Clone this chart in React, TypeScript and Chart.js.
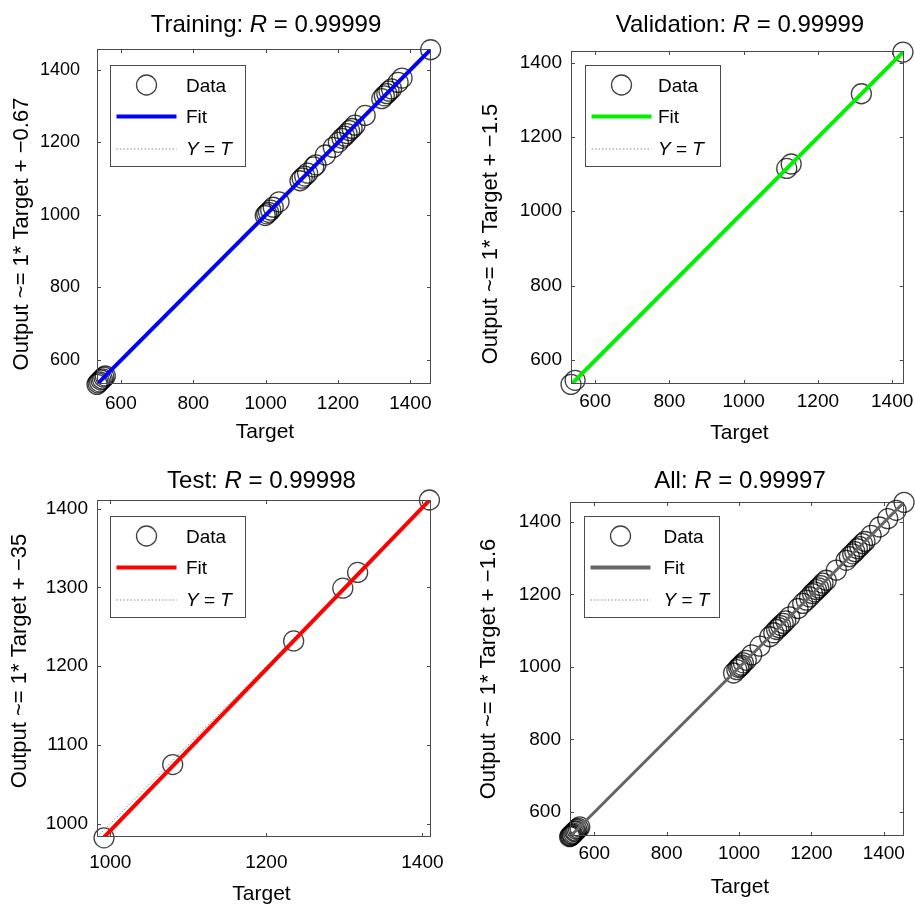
import React, { useEffect, useRef } from "react";
import { Chart, registerables } from "chart.js";

Chart.register(...registerables);

// ---------------- DATA ----------------
const trainTarget = [534, 537, 541, 545, 549, 553, 557, 999, 1003, 1008, 1014, 1021, 1037, 1095, 1101, 1108, 1116, 1133, 1139, 1165, 1187, 1201, 1211, 1218, 1225, 1232, 1239, 1247, 1275, 1321, 1328, 1335, 1341, 1348, 1366, 1377, 1456];
const trainOutput = [533, 537, 540, 545, 548, 553, 556, 998, 1003, 1007, 1013, 1021, 1036, 1094, 1101, 1107, 1115, 1132, 1138, 1165, 1186, 1200, 1211, 1217, 1224, 1232, 1238, 1247, 1274, 1320, 1328, 1334, 1341, 1347, 1365, 1377, 1455];

const valTarget = [535, 546, 1116, 1128, 1317, 1429];
const valOutput = [534, 545, 1115, 1127, 1316, 1428];

const testTarget = [992, 1080, 1235, 1298, 1317, 1409];
const testOutput = [982, 1075, 1232, 1299, 1319, 1411];

const allTarget = [532, 534, 536, 538, 540, 543, 546, 549, 552, 556, 560, 985, 994, 999, 1003, 1007, 1012, 1020, 1035, 1058, 1085, 1096, 1104, 1110, 1115, 1122, 1129, 1140, 1163, 1176, 1186, 1195, 1203, 1209, 1214, 1220, 1226, 1232, 1241, 1269, 1296, 1305, 1314, 1320, 1327, 1334, 1341, 1348, 1365, 1388, 1411, 1434, 1456];
const allOutput = [531, 533, 534, 537, 538, 541, 545, 547, 551, 554, 558, 983, 992, 998, 1001, 1005, 1011, 1018, 1033, 1057, 1083, 1094, 1103, 1108, 1114, 1120, 1127, 1138, 1161, 1175, 1184, 1193, 1202, 1207, 1213, 1218, 1224, 1231, 1239, 1267, 1294, 1304, 1312, 1318, 1326, 1332, 1340, 1346, 1363, 1386, 1409, 1432, 1454];

const wideTicks = [600, 800, 1000, 1200, 1400];
const testXTicks = [1000, 1200, 1400];
const testYTicks = [1000, 1100, 1200, 1300, 1400];

// fit parameters
const trainFit = { slope: 1.0, intercept: -0.67 };
const valFit = { slope: 1.0, intercept: -1.5 };
const testFit = { slope: 1.026, intercept: -35 };
const allFit = { slope: 1.0, intercept: -1.6 };

const titles = ["Training", "Validation", "Test", "All"];
const rValues = ["0.99999", "0.99999", "0.99998", "0.99997"];
const yTitles = [
  "Output ~= 1* Target + \u22120.67",
  "Output ~= 1* Target + \u22121.5",
  "Output ~= 1* Target + \u221235",
  "Output ~= 1* Target + \u22121.6",
];

// ---------------- STYLE / LAYOUT ----------------
const FONT = "'Liberation Sans', Arial, Helvetica, sans-serif";
const AXIS_COLOR = "#4a4a4a";
const CIRCLE_COLOR = "rgba(0,0,0,0.75)";
const TICK_LEN = 4;

type Panel = {
  left: number; top: number; w: number; h: number;
  plot: { l: number; r: number; t: number; b: number };
  min: number; max: number;
  xTicks: number[]; yTicks: number[];
  targets: number[]; outputs: number[];
  fit: { slope: number; intercept: number };
  color: string; fitWidth: number;
  title: string; r: string; yTitle: string;
  titleX: number; titleY: number;
  xTitleX: number; xTitleY: number;
  yTitleX: number; yTitleY: number;
  xTickPad: number; yTickPad: number; yTickSize: number;
  leg: { l: number; t: number; textDx: number };
};

const panels: Panel[] = [
  {
    left: 0, top: 0, w: 457, h: 450,
    plot: { l: 97, r: 431, t: 49, b: 384 },
    min: 534, max: 1457, xTicks: wideTicks, yTicks: wideTicks,
    targets: trainTarget, outputs: trainOutput, fit: trainFit,
    color: "#0000ff", fitWidth: 4,
    title: titles[0], r: rValues[0], yTitle: yTitles[0],
    titleX: 266, titleY: 31.5, xTitleX: 265, xTitleY: 438, yTitleX: 22, yTitleY: 234,
    xTickPad: 8, yTickPad: 17, yTickSize: 18,
    leg: { l: 110.5, t: 65.5, textDx: 75.5 },
  },
  {
    left: 457, top: 0, w: 458, h: 450,
    plot: { l: 114, r: 447, t: 51, b: 384 },
    min: 535, max: 1431, xTicks: wideTicks, yTicks: wideTicks,
    targets: valTarget, outputs: valOutput, fit: valFit,
    color: "#00f000", fitWidth: 4,
    title: titles[1], r: rValues[1], yTitle: yTitles[1],
    titleX: 283, titleY: 31.5, xTitleX: 282.5, xTitleY: 439, yTitleX: 34, yTitleY: 234,
    xTickPad: 6, yTickPad: 9, yTickSize: 19,
    leg: { l: 128.5, t: 65.5, textDx: 72.5 },
  },
  {
    left: 0, top: 450, w: 457, h: 454,
    plot: { l: 97, r: 431, t: 50, b: 387 },
    min: 983, max: 1411, xTicks: testXTicks, yTicks: testYTicks,
    targets: testTarget, outputs: testOutput, fit: testFit,
    color: "#ff0000", fitWidth: 4,
    title: titles[2], r: rValues[2], yTitle: yTitles[2],
    titleX: 261.5, titleY: 37.5, xTitleX: 261.5, xTitleY: 450, yTitleX: 20, yTitleY: 211,
    xTickPad: 14, yTickPad: 9, yTickSize: 19,
    leg: { l: 110.5, t: 66.5, textDx: 75.5 },
  },
  {
    left: 457, top: 450, w: 458, h: 454,
    plot: { l: 113, r: 447, t: 52, b: 386 },
    min: 533, max: 1455, xTicks: wideTicks, yTicks: wideTicks,
    targets: allTarget, outputs: allOutput, fit: allFit,
    color: "#666666", fitWidth: 3,
    title: titles[3], r: rValues[3], yTitle: yTitles[3],
    titleX: 283, titleY: 37.5, xTitleX: 283, xTitleY: 443, yTitleX: 32, yTitleY: 219,
    xTickPad: 6, yTickPad: 9, yTickSize: 19,
    leg: { l: 127.5, t: 66.5, textDx: 79 },
  },
];

// ---------------- DRAW HELPERS ----------------
type Part = { text: string; italic?: boolean };

function drawRich(ctx: CanvasRenderingContext2D, parts: Part[], x: number, y: number, size: number, align: "center" | "left") {
  let total = 0;
  const widths = parts.map((p) => {
    ctx.font = `${p.italic ? "italic " : ""}${size}px ${FONT}`;
    const w = ctx.measureText(p.text).width;
    total += w;
    return w;
  });
  let cx = align === "center" ? x - total / 2 : x;
  ctx.textAlign = "left";
  parts.forEach((p, i) => {
    ctx.font = `${p.italic ? "italic " : ""}${size}px ${FONT}`;
    ctx.fillText(p.text, cx, y);
    cx += widths[i];
  });
}

function makeDecor(p: Panel) {
  return {
    id: "decor",
    afterDraw(chart: any) {
      const ctx: CanvasRenderingContext2D = chart.ctx;
      const { left, right, top, bottom } = chart.chartArea;
      const xs = chart.scales.x;
      const ys = chart.scales.y;
      ctx.save();
      // box
      ctx.strokeStyle = AXIS_COLOR;
      ctx.lineWidth = 1;
      ctx.strokeRect(Math.round(left) + 0.5, Math.round(top) + 0.5, Math.round(right - left) - 1, Math.round(bottom - top) - 1);
      // inward ticks on all sides
      ctx.beginPath();
      xs.ticks.forEach((t: any) => {
        const px = Math.round(xs.getPixelForValue(t.value)) + 0.5;
        ctx.moveTo(px, bottom); ctx.lineTo(px, bottom - TICK_LEN);
        ctx.moveTo(px, top); ctx.lineTo(px, top + TICK_LEN);
      });
      ys.ticks.forEach((t: any) => {
        const py = Math.round(ys.getPixelForValue(t.value)) + 0.5;
        ctx.moveTo(left, py); ctx.lineTo(left + TICK_LEN, py);
        ctx.moveTo(right, py); ctx.lineTo(right - TICK_LEN, py);
      });
      ctx.stroke();

      ctx.fillStyle = "#000";
      ctx.textBaseline = "alphabetic";
      // title
      drawRich(ctx, [{ text: p.title + ": " }, { text: "R", italic: true }, { text: " = " + p.r }], p.titleX, p.titleY, 24, "center");
      // x title
      drawRich(ctx, [{ text: "Target" }], p.xTitleX, p.xTitleY, 21, "center");
      // y title
      ctx.save();
      ctx.translate(p.yTitleX, p.yTitleY);
      ctx.rotate(-Math.PI / 2);
      ctx.textBaseline = "middle";
      drawRich(ctx, [{ text: p.yTitle }], 0, 0, 22, "center");
      ctx.restore();

      // legend
      const L = p.leg;
      const bw = 135, bh = 101;
      ctx.fillStyle = "#fff";
      ctx.fillRect(L.l, L.t, bw, bh);
      ctx.strokeStyle = AXIS_COLOR;
      ctx.lineWidth = 1;
      ctx.strokeRect(L.l, L.t, bw, bh);
      // circle
      ctx.beginPath();
      ctx.strokeStyle = CIRCLE_COLOR;
      ctx.lineWidth = 1.3;
      ctx.arc(L.l + 36, L.t + 19.5, 10, 0, Math.PI * 2);
      ctx.stroke();
      // fit
      ctx.beginPath();
      ctx.strokeStyle = p.color;
      ctx.lineWidth = 4;
      ctx.moveTo(L.l + 6, L.t + 51);
      ctx.lineTo(L.l + 66, L.t + 51);
      ctx.stroke();
      // Y = T dotted
      ctx.beginPath();
      ctx.strokeStyle = "#8a8a8a";
      ctx.lineWidth = 1;
      ctx.setLineDash([1.5, 2]);
      ctx.moveTo(L.l + 6, L.t + 83.5);
      ctx.lineTo(L.l + 66, L.t + 83.5);
      ctx.stroke();
      ctx.setLineDash([]);
      ctx.fillStyle = "#000";
      ctx.textBaseline = "middle";
      drawRich(ctx, [{ text: "Data" }], L.l + L.textDx, L.t + 21, 19, "left");
      drawRich(ctx, [{ text: "Fit" }], L.l + L.textDx, L.t + 52.5, 19, "left");
      drawRich(ctx, [{ text: "Y", italic: true }, { text: " = " }, { text: "T", italic: true }], L.l + L.textDx, L.t + 84, 19, "left");
      ctx.restore();
    },
  };
}

function PanelChart({ p }: { p: Panel }) {
  const ref = useRef<HTMLCanvasElement | null>(null);
  useEffect(() => {
    if (!ref.current) return;
    const pts = p.targets.map((t, i) => ({ x: t, y: p.outputs[i] }));
    const fitPts = [p.min, p.max].map((v) => ({ x: v, y: p.fit.slope * v + p.fit.intercept }));
    const idPts = [p.min, p.max].map((v) => ({ x: v, y: v }));
    const chart = new Chart(ref.current, {
      type: "scatter",
      data: {
        datasets: [
          { label: "Fit", data: fitPts, showLine: true, borderColor: p.color, borderWidth: p.fitWidth, pointRadius: 0, fill: false },
          { label: "Y = T", data: idPts, showLine: true, borderColor: "#8a8a8a", borderWidth: 1, borderDash: [1.5, 2], pointRadius: 0, fill: false },
          { label: "Data", data: pts, showLine: false, pointStyle: "circle", pointRadius: 10, borderColor: CIRCLE_COLOR, backgroundColor: "rgba(0,0,0,0)", pointBorderWidth: 1.3, clip: false } as any,
        ],
      },
      options: {
        responsive: false,
        animation: false,
        events: [],
        layout: { padding: { left: 0, top: p.plot.t, right: p.w - p.plot.r, bottom: 0 } },
        plugins: { legend: { display: false }, tooltip: { enabled: false }, title: { display: false } },
        scales: {
          x: {
            type: "linear", position: "bottom", min: p.min, max: p.max,
            grid: { display: false, drawTicks: false }, border: { display: false },
            ticks: { font: { family: FONT, size: 19 }, color: "#000", padding: p.xTickPad, maxRotation: 0, autoSkip: false, callback: (v: any) => String(v) },
            afterBuildTicks: (s: any) => { s.ticks = p.xTicks.map((v) => ({ value: v })); },
            afterFit: (s: any) => { s.height = p.h - p.plot.b; s.paddingLeft = 0; s.paddingRight = 0; s.paddingTop = 0; s.paddingBottom = 0; },
          },
          y: {
            type: "linear", position: "left", min: p.min, max: p.max,
            grid: { display: false, drawTicks: false }, border: { display: false },
            ticks: { font: { family: FONT, size: p.yTickSize }, color: "#000", padding: p.yTickPad, autoSkip: false, callback: (v: any) => String(v) },
            afterBuildTicks: (s: any) => { s.ticks = p.yTicks.map((v) => ({ value: v })); },
            afterFit: (s: any) => { s.width = p.plot.l; s.paddingLeft = 0; s.paddingRight = 0; s.paddingTop = 0; s.paddingBottom = 0; },
          },
        },
      } as any,
      plugins: [makeDecor(p)],
    });
    return () => chart.destroy();
  }, [p]);
  return (
    <div style={{ position: "absolute", left: p.left, top: p.top, width: p.w, height: p.h }}>
      <canvas ref={ref} width={p.w} height={p.h} style={{ display: "block", width: p.w, height: p.h }} />
    </div>
  );
}

export default function App() {
  return (
    <div style={{ position: "absolute", left: 0, top: 0, width: 915, height: 904, background: "#fff", overflow: "hidden" }}>
      {panels.map((p, i) => (
        <PanelChart key={i} p={p} />
      ))}
    </div>
  );
}
